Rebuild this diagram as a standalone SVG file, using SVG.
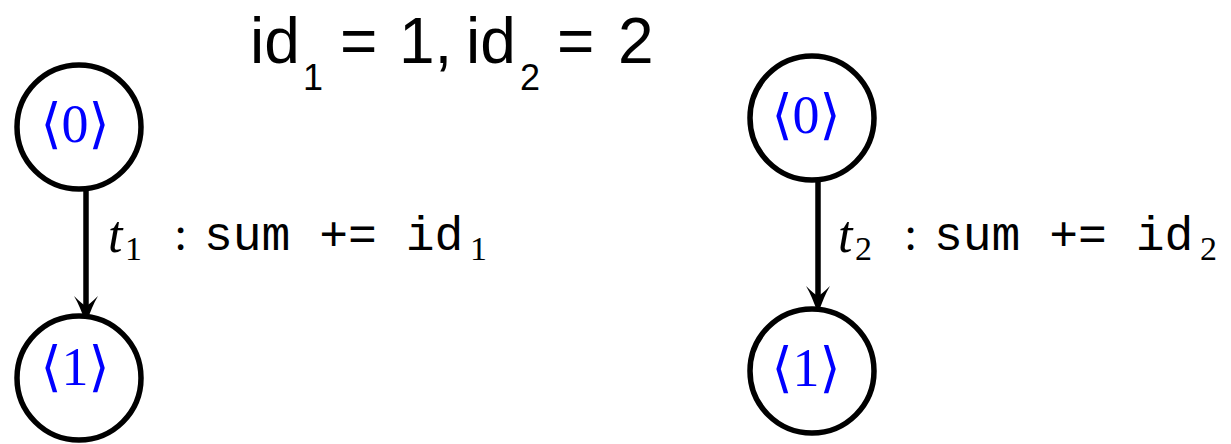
<svg xmlns="http://www.w3.org/2000/svg" width="1231" height="444" viewBox="0 0 1231 444">
<style>
.node circle{fill:#fff;stroke:#000;stroke-width:5.5}
.lbl{font-family:"Liberation Serif","DejaVu Serif",serif;font-size:54px;fill:#0000ff;text-anchor:middle}
.br{font-family:"DejaVu Serif","DejaVu Sans",serif;font-weight:normal}
.edge{stroke:#000;stroke-width:5.5;fill:none}
.head{fill:#000;stroke:none}
.it{font-family:"Liberation Serif",serif;font-style:italic;font-size:52px}
.sub{font-family:"Liberation Serif",serif;font-size:34px}
.mono{font-family:"Liberation Mono",monospace;font-size:48px}
.col{font-family:"Liberation Serif",serif;font-size:48px}
.title{font-family:"Liberation Sans",Arial,sans-serif;font-size:64px}
.tsub{font-family:"Liberation Sans",Arial,sans-serif;font-size:36px}
</style>
<g id="title">
<text class="title" x="250" y="63">id</text>
<text class="tsub" x="303" y="90">1</text>
<text class="title" x="340" y="63">=</text>
<text class="title" x="399" y="63">1,</text>
<text class="title" x="466" y="63">id</text>
<text class="tsub" x="520" y="90">2</text>
<text class="title" x="557" y="63">=</text>
<text class="title" x="618" y="63">2</text>
</g>
<g id="connectors">
<line class="edge" x1="86" y1="191" x2="86" y2="312"/>
<path class="head" d="M86,324 Q80,306 74,296 Q82,304 86,306 Q90,304 98,296 Q92,306 86,324 Z"/>
<line class="edge" x1="818" y1="182" x2="818" y2="302"/>
<path class="head" d="M818,314 Q812,296 806,286 Q814,294 818,296 Q822,294 830,286 Q824,296 818,314 Z"/>
</g>
<g id="label1">
<text class="it" x="108" y="252">t</text>
<text class="sub" x="125" y="260">1</text>
<text class="col" x="174" y="250">:</text>
<text class="mono" x="204" y="250">sum += id</text>
<text class="sub" x="470" y="260">1</text>
</g>
<g id="label2">
<text class="it" x="838" y="252">t</text>
<text class="sub" x="855" y="260">2</text>
<text class="col" x="904" y="250">:</text>
<text class="mono" x="934" y="250">sum += id</text>
<text class="sub" x="1200" y="260">2</text>
</g>
<g id="n1a" class="node">
<circle cx="79" cy="127" r="62"/>
<text class="lbl" x="75" y="142"><tspan class="br">⟨</tspan>0<tspan class="br">⟩</tspan></text>
</g>
<g id="n1b" class="node">
<circle cx="79" cy="378" r="62"/>
<text class="lbl" x="75" y="385"><tspan class="br">⟨</tspan>1<tspan class="br">⟩</tspan></text>
</g>
<g id="n2a" class="node">
<circle cx="812" cy="118" r="62"/>
<text class="lbl" x="806" y="133"><tspan class="br">⟨</tspan>0<tspan class="br">⟩</tspan></text>
</g>
<g id="n2b" class="node">
<circle cx="812" cy="371" r="62"/>
<text class="lbl" x="806" y="386"><tspan class="br">⟨</tspan>1<tspan class="br">⟩</tspan></text>
</g>
</svg>
